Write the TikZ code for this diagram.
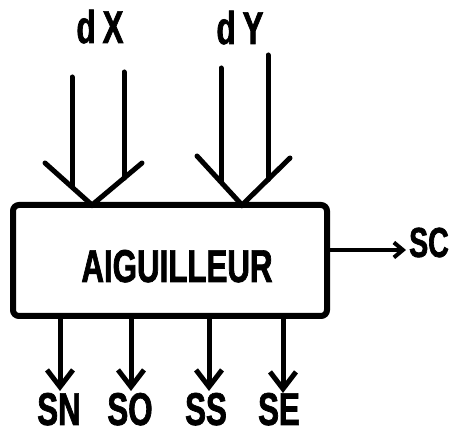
\documentclass[tikz,border=0pt]{standalone}
\usepackage{fontspec}
\newfontfamily\handfont{Liberation Sans Bold}[FakeStretch=0.68,FakeBold=1.5]
\usetikzlibrary{arrows.meta,calc}
\tikzset{
  blok/.style={draw,line width=6pt,rounded corners=6pt,minimum width=314pt,
    minimum height=111pt,inner sep=0pt},
  lbl/.style={font=\handfont\fontsize{46}{46}\selectfont,
    inner sep=0pt,anchor=base},
  smlbl/.style={lbl,font=\handfont\fontsize{42}{42}\selectfont},
  inarr/.style={line width=5pt,line cap=round,line join=miter},
  outarr/.style={-{Straight Barb[length=17pt,width=26pt]},line width=5pt},
  scarr/.style={-{Straight Barb[length=9pt,width=15pt]},line width=4pt},
}
\begin{document}
\begin{tikzpicture}[x=1pt,y=-1pt]
  \useasboundingbox (0,0) rectangle (451,435);
  % the switching block
  \node[blok] (aig) at (170,260.5) {};
  \node[lbl] (aiglbl) at (177,282) {AIGUILLEUR};
  % input dX
  \node[lbl] (dx) at (100,43) {d\kern7pt X};
  \coordinate (dxl) at (45,163);
  \coordinate (dxa) at (92,205);
  \coordinate (dxr) at (142,163);
  \coordinate (dxt1) at (72,77);
  \coordinate (dxt2) at (124,72);
  \draw[inarr] (dxl) -- (dxa) -- (dxr);
  \draw[inarr] (dxt1) -- (dxt1 |- {$(dxl)!.57!(dxa)$});
  \draw[inarr] (dxt2) -- (dxt2 |- {$(dxa)!.64!(dxr)$});
  % input dY
  \node[lbl] (dy) at (240,44) {d\kern7pt Y};
  \coordinate (dyl) at (197,156);
  \coordinate (dya) at (242,205);
  \coordinate (dyr) at (290,158);
  \coordinate (dyt1) at (221,68);
  \coordinate (dyt2) at (268,55);
  \draw[inarr] (dyl) -- (dya) -- (dyr);
  \draw[inarr] (dyt1) -- (dyt1 |- {$(dyl)!.53!(dya)$});
  \draw[inarr] (dyt2) -- (dyt2 |- {$(dya)!.54!(dyr)$});
  % outputs below
  \node[lbl] (sn) at (59,425) {SN};
  \node[lbl] (so) at (130,425) {SO};
  \node[lbl] (ss) at (206,425) {SS};
  \node[lbl] (se) at (279,425) {SE};
  \coordinate (snend) at (60,391);
  \coordinate (soend) at (131,391);
  \coordinate (ssend) at (209,391);
  \coordinate (seend) at (283,393);
  \foreach \o in {sn,so,ss,se}
    \draw[outarr] (aig.south -| \o end) -- (\o end);
  % output to the right
  \node[smlbl] (sc) at (429,257) {SC};
  \coordinate (scend) at (406,250);
  \draw[scarr] (aig.east |- scend) -- (scend);
\end{tikzpicture}
\end{document}
